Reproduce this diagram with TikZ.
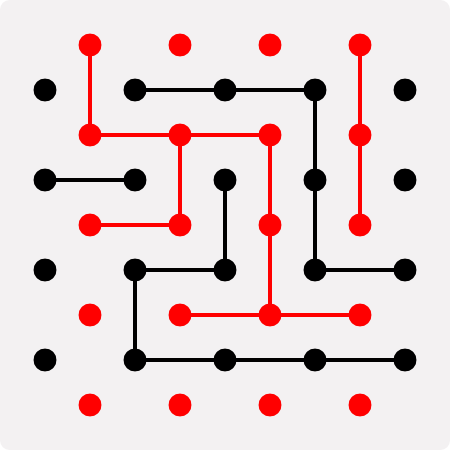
\documentclass[tikz,border=0pt]{standalone}
\usepackage{tikz}
\usetikzlibrary{backgrounds}
\definecolor{boardbg}{HTML}{F3F1F2}
\definecolor{dotred}{HTML}{FF0000}
\begin{document}
\begin{tikzpicture}[
  blackdot/.style={circle, fill=black, inner sep=0pt, minimum size=0.51cm},
  reddot/.style={circle, fill=dotred, inner sep=0pt, minimum size=0.51cm},
  blackline/.style={draw=black, line width=3.1pt},
  redline/.style={draw=dotred, line width=3.1pt}
]
  \useasboundingbox (0,0) rectangle (10,10);

  % black dots
  \foreach \i in {1,...,5}
    \foreach \j in {1,...,4}
      \node[blackdot] (b\i\j) at ({2*\i-1},{10-2*\j}) {};

  % red dots
  \foreach \i in {1,...,4}
    \foreach \j in {1,...,5}
      \node[reddot] (r\i\j) at ({2*\i},{11-2*\j}) {};

  \begin{pgfonlayer}{background}
    \fill[white] (0,0) rectangle (10,10);
    \fill[boardbg, rounded corners=0.22cm] (0,0) rectangle (10,10);
    % black path
    \draw[blackline] (b21.center) -- (b31.center) -- (b41.center)
      -- (b42.center) -- (b43.center) -- (b53.center);
    \draw[blackline] (b12.center) -- (b22.center);
    \draw[blackline] (b32.center) -- (b33.center) -- (b23.center)
      -- (b24.center) -- (b34.center) -- (b44.center) -- (b54.center);
    % red path
    \draw[redline] (r11.center) -- (r12.center) -- (r22.center) -- (r32.center)
      -- (r33.center) -- (r34.center);
    \draw[redline] (r22.center) -- (r23.center) -- (r13.center);
    \draw[redline] (r24.center) -- (r34.center) -- (r44.center);
    \draw[redline] (r41.center) -- (r42.center) -- (r43.center);
  \end{pgfonlayer}
\end{tikzpicture}
\end{document}
